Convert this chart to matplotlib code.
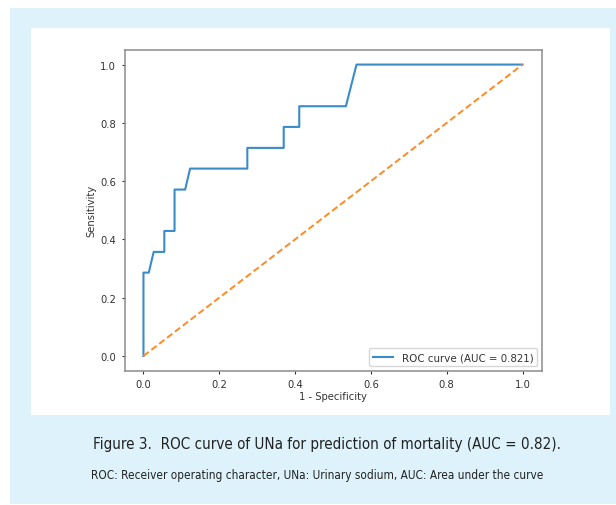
import matplotlib
matplotlib.use("Agg")
import matplotlib.pyplot as plt
from matplotlib.patches import Rectangle
from matplotlib import font_manager

# ROC curve points
fpr = [0.0, 0.0, 0.014, 0.027, 0.055, 0.055, 0.082, 0.082, 0.110, 0.123,
       0.274, 0.274, 0.370, 0.370, 0.411, 0.411, 0.534, 0.562, 1.0]
tpr = [0.0, 0.286, 0.286, 0.357, 0.357, 0.429, 0.429, 0.571, 0.571, 0.643,
       0.643, 0.714, 0.714, 0.786, 0.786, 0.857, 0.857, 1.0, 1.0]
chance = [0.0, 1.0]
auc_label = "ROC curve (AUC = 0.821)"
caption = "Figure 3.  ROC curve of UNa for prediction of mortality (AUC = 0.82)."
note = "ROC: Receiver operating character, UNa: Urinary sodium, AUC: Area under the curve"

W, H = 616, 506

# a narrow face for the caption if one is installed
cap_prop = None
for f in font_manager.fontManager.ttflist:
    fn = f.fname.replace("-", "").lower()
    if "liberationsansnarrowregular" in fn or fn.endswith("dejavusanscondensed.ttf"):
        cap_prop = f.fname
        break
narrow = cap_prop is not None

def cap_font(size):
    if narrow:
        return font_manager.FontProperties(fname=cap_prop, size=size)
    return font_manager.FontProperties(family="Liberation Sans", size=size * 0.84)

fig = plt.figure(figsize=(W / 100, H / 100), dpi=100)
fig.patch.set_facecolor("white")

def px_rect(x0, y0, x1, y1, color):
    fig.patches.append(Rectangle((x0 / W, 1 - y1 / H), (x1 - x0) / W, (y1 - y0) / H,
                                 transform=fig.transFigure, facecolor=color,
                                 edgecolor="none", zorder=-10))

px_rect(10, 9, 616, 505, "#ddf2fb")
px_rect(31, 29, 610, 416, "white")

ax = fig.add_axes([124.5 / W, 1 - 371.5 / H, 417 / W, 320.5 / H])
ax.set_facecolor("white")
ax.plot(fpr, tpr, color="#3a8cc8", lw=1.5, label=auc_label)
ax.plot(chance, chance, color="#ff8a24", lw=1.4, linestyle="--", dashes=(3.4, 1.7))
ax.set_xlim(-0.05, 1.05)
ax.set_ylim(-0.05, 1.05)
ax.set_xticks([0, 0.2, 0.4, 0.6, 0.8, 1.0])
ax.set_yticks([0, 0.2, 0.4, 0.6, 0.8, 1.0])
ax.tick_params(labelsize=7.2, colors="#333333", length=2.5, width=0.8)
for s in ax.spines.values():
    s.set_color("#8c8c8c")
    s.set_linewidth(1.1)
ax.set_xlabel("1 - Specificity", fontsize=7.2, color="#333333", labelpad=1.5)
ax.set_ylabel("Sensitivity", fontsize=7.2, color="#333333", labelpad=3)
leg = ax.legend(loc="lower right", fontsize=7.4, handlelength=2.0,
                borderaxespad=0.4, fancybox=True)
for t in leg.get_texts():
    t.set_color("#333333")

fig.text(327 / W, 1 - 444 / H, caption, fontproperties=cap_font(10.9),
         color="#222222", ha="center", va="center")
fig.text(317 / W, 1 - 476 / H, note, fontproperties=cap_font(8.45),
         color="#222222", ha="center", va="center")

fig.savefig("out.png", dpi=100)
